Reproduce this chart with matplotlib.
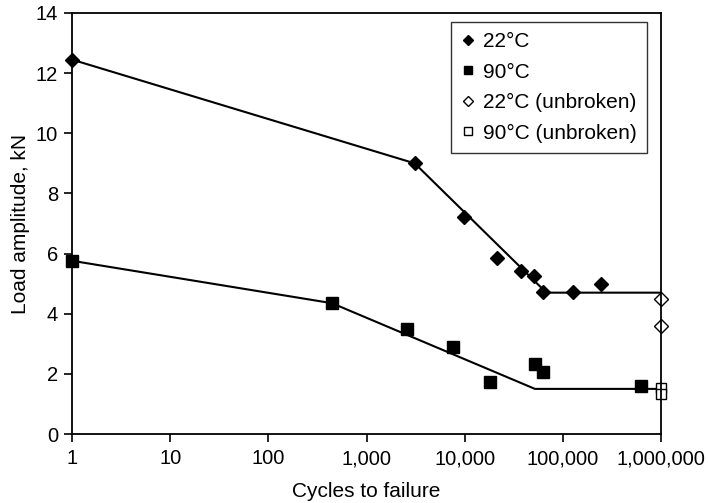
import matplotlib
matplotlib.use("Agg")
import matplotlib.pyplot as plt
from matplotlib.ticker import FixedLocator, FuncFormatter, NullLocator

plt.rcParams['font.family'] = ['Liberation Sans', 'DejaVu Sans']

# measured points
cyc_22 = [1, 3100, 9800, 21600, 37900, 50700, 62500, 127000, 242000]
load_22 = [12.45, 9.0, 7.23, 5.86, 5.43, 5.27, 4.71, 4.71, 4.98]
cyc_90 = [1, 445, 2600, 7530, 18100, 51900, 62100, 632000]
load_90 = [5.76, 4.35, 3.48, 2.90, 1.73, 2.32, 2.05, 1.60]

# run-outs
cyc_22_ub = [1000000, 1000000]
load_22_ub = [4.49, 3.59]
cyc_90_ub = [1000000, 1000000]
load_90_ub = [1.52, 1.33]

# trend lines
fit_x_22 = [1, 3100, 68000, 1000000]
fit_y_22 = [12.45, 9.0, 4.7, 4.7]
fit_x_90 = [1, 445, 52000, 1000000]
fit_y_90 = [5.76, 4.35, 1.5, 1.5]

xticks = [1, 10, 100, 1000, 10000, 100000, 1000000]

fig = plt.figure(figsize=(7.08, 5.03), dpi=100)
ax = fig.add_axes([72 / 708, 69 / 503, 589 / 708, 421 / 503])

ax.plot(fit_x_22, fit_y_22, color='black', lw=1.5, zorder=2)
ax.plot(fit_x_90, fit_y_90, color='black', lw=1.5, zorder=2)
ax.plot(cyc_22, load_22, 'D', color='black', ms=7, ls='none', label='22°C',
        zorder=3, clip_on=False)
ax.plot(cyc_90, load_90, 's', color='black', ms=8, ls='none', label='90°C',
        zorder=3, clip_on=False)
ax.plot(cyc_22_ub, load_22_ub, 'D', mfc='white', mec='black', mew=1, ms=7,
        ls='none', label='22°C (unbroken)', zorder=2.2, clip_on=False)
ax.plot(cyc_90_ub, load_90_ub, 's', mfc='white', mec='black', mew=1, ms=7.5,
        ls='none', label='90°C (unbroken)', zorder=2.2, clip_on=False)

ax.set_xscale('log')
ax.set_xlim(1, 1000000)
ax.set_ylim(0, 14)
ax.xaxis.set_major_locator(FixedLocator(xticks))
ax.xaxis.set_minor_locator(NullLocator())
ax.xaxis.set_major_formatter(FuncFormatter(lambda v, p: f"{int(round(v)):,}"))
ax.set_yticks(range(0, 15, 2))
ax.tick_params(direction='out', length=6, width=1.2, labelsize=14.5, colors='black')
ax.tick_params(axis='x', pad=5)
ax.tick_params(axis='y', pad=4)
for s in ax.spines.values():
    s.set_linewidth(1.3)

ax.set_xlabel('Cycles to failure', fontsize=15, labelpad=10)
ax.set_ylabel('Load amplitude, kN', fontsize=15, labelpad=4)

leg = ax.legend(loc='upper right', bbox_to_anchor=(0.976, 0.979), borderaxespad=0,
                fontsize=15, frameon=True, fancybox=False, edgecolor='black',
                markerscale=0.7, handlelength=0.6, handletextpad=0.4,
                borderpad=0.5, labelspacing=0.55)
leg.get_frame().set_linewidth(1.0)

fig.savefig('out.png', dpi=100)
